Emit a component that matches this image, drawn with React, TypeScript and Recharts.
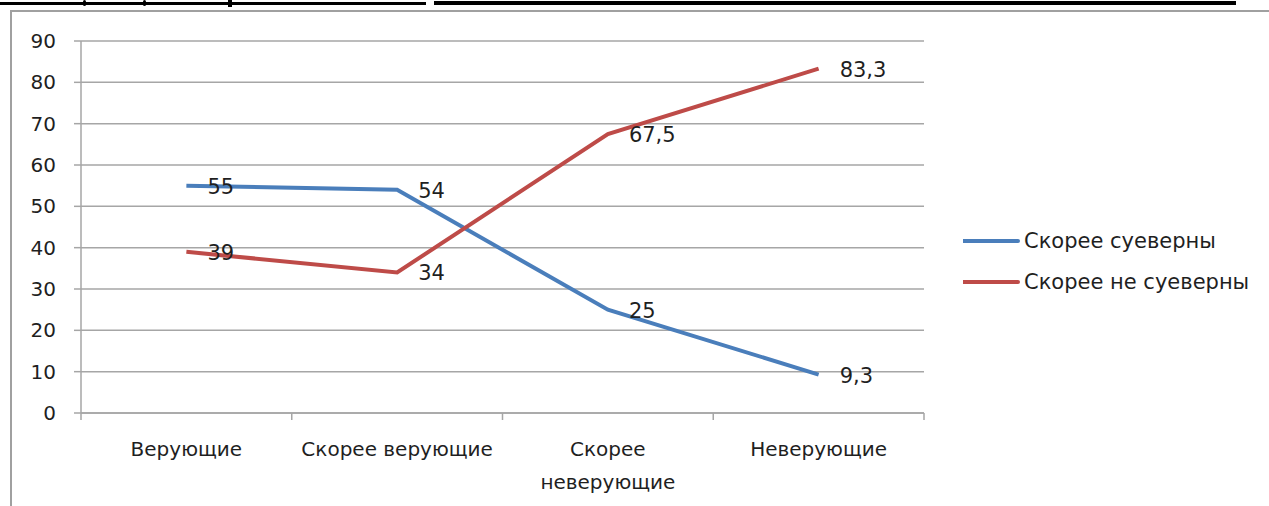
import { LineChart, Line, XAxis, YAxis, CartesianGrid, LabelList } from "recharts";

// ── Data ────────────────────────────────────────────────────────────────────

const categories = ["Верующие", "Скорее верующие", "Скорее неверующие", "Неверующие"];
const superstitious = [55, 54, 25, 9.3];
const notSuperstitious = [39, 34, 67.5, 83.3];
const yTicks = [0, 10, 20, 30, 40, 50, 60, 70, 80, 90];

const seriesNames = ["Скорее суеверны", "Скорее не суеверны"];
const seriesColors = ["#4a7ebb", "#be4b48"];

const data = categories.map((name, i) => ({
  name,
  a: superstitious[i],
  b: notSuperstitious[i],
}));

// ── Layout ──────────────────────────────────────────────────────────────────

const W = 1269;
const H = 506;
const PLOT_LEFT = 81;
const PLOT_RIGHT = 924;
const PLOT_TOP = 41;
const PLOT_BOTTOM = 413;
const BAND = (PLOT_RIGHT - PLOT_LEFT) / categories.length;

const FONT = "'DejaVu Sans', Verdana, sans-serif";
const TEXT = "#1f1f1f";
const GRID = "#a6a6a6";

const fmt = (v: number) => String(v).replace(".", ",");

function wrapLabel(s: string): string[] {
  if (s.length <= 16) return [s];
  const i = s.indexOf(" ");
  return i > 0 ? [s.slice(0, i), s.slice(i + 1)] : [s];
}

function XTick(props: any) {
  const { x, y, payload, index } = props;
  const lines = wrapLabel(String(payload.value));
  const left = x - BAND / 2;
  return (
    <g>
      <line x1={left} x2={left} y1={PLOT_BOTTOM} y2={PLOT_BOTTOM + 7} stroke={GRID} strokeWidth={1.5} />
      {index === categories.length - 1 && (
        <line x1={x + BAND / 2} x2={x + BAND / 2} y1={PLOT_BOTTOM} y2={PLOT_BOTTOM + 7} stroke={GRID} strokeWidth={1.5} />
      )}
      {lines.map((ln, i) => (
        <text
          key={i}
          x={x}
          y={y + 28 + i * 33}
          textAnchor="middle"
          dominantBaseline="central"
          fontFamily={FONT}
          fontSize={20}
          fill={TEXT}
        >
          {ln}
        </text>
      ))}
    </g>
  );
}

function PointLabel(props: any) {
  const { x, y, value } = props;
  return (
    <text x={x + 21} y={y + 1} dominantBaseline="central" fontFamily={FONT} fontSize={21} fill={TEXT}>
      {fmt(value)}
    </text>
  );
}

function LegendBox() {
  return (
    <div style={{ position: "absolute", left: 963, top: 220, fontFamily: FONT, fontSize: 21, color: TEXT }}>
      {seriesNames.map((n, i) => (
        <div key={n} style={{ display: "flex", alignItems: "center", height: 41 }}>
          <svg width={61} height={10} style={{ display: "block" }}>
            <line x1={0} x2={55} y1={5} y2={5} stroke={seriesColors[i]} strokeWidth={4} strokeLinecap="round" />
          </svg>
          <span style={{ whiteSpace: "nowrap" }}>{n}</span>
        </div>
      ))}
    </div>
  );
}

export default function App() {
  return (
    <div style={{ position: "absolute", left: 0, top: 0, width: W, height: H, background: "#fff", overflow: "hidden" }}>
      {/* cut-off underline from the text above */}
      <div style={{ position: "absolute", left: 0, top: 2, width: 426, height: 3, background: "#000" }} />
      <div style={{ position: "absolute", left: 434, top: 1, width: 802, height: 4, background: "#000" }} />
      <div style={{ position: "absolute", left: 83, top: 0, width: 3, height: 6, background: "#000", borderRadius: 2 }} />
      <div style={{ position: "absolute", left: 143, top: 0, width: 3, height: 6, background: "#000", borderRadius: 2 }} />
      <div style={{ position: "absolute", left: 228, top: 0, width: 4, height: 7, background: "#000" }} />
      {/* chart frame */}
      <div
        style={{
          position: "absolute",
          left: 10,
          top: 10,
          width: W,
          height: H,
          borderLeft: "2px solid #a0a0a0",
          borderTop: "2px solid #a0a0a0",
        }}
      />
      <div style={{ position: "absolute", left: 0, top: 0 }}>
        <LineChart
          width={W}
          height={H}
          data={data}
          margin={{ top: PLOT_TOP, right: W - PLOT_RIGHT, bottom: 0, left: 0 }}
        >
          <CartesianGrid vertical={false} stroke={GRID} strokeWidth={1.5} />
          <XAxis
            dataKey="name"
            scale="band"
            height={H - PLOT_BOTTOM}
            axisLine={{ stroke: GRID, strokeWidth: 1.5 }}
            tickLine={false}
            tick={<XTick />}
            interval={0}
          />
          <YAxis
            width={PLOT_LEFT}
            domain={[0, 90]}
            ticks={yTicks}
            interval={0}
            tickSize={7}
            tickMargin={18}
            axisLine={{ stroke: GRID, strokeWidth: 1.5 }}
            tickLine={{ stroke: GRID, strokeWidth: 1.5 }}
            tick={{ fontFamily: FONT, fontSize: 20, fill: TEXT }}
          />
          <Line
            dataKey="a"
            name={seriesNames[0]}
            stroke={seriesColors[0]}
            strokeWidth={4}
            dot={false}
            isAnimationActive={false}
          >
            <LabelList dataKey="a" content={<PointLabel />} />
          </Line>
          <Line
            dataKey="b"
            name={seriesNames[1]}
            stroke={seriesColors[1]}
            strokeWidth={4}
            dot={false}
            isAnimationActive={false}
          >
            <LabelList dataKey="b" content={<PointLabel />} />
          </Line>
        </LineChart>
      </div>
      <LegendBox />
    </div>
  );
}
